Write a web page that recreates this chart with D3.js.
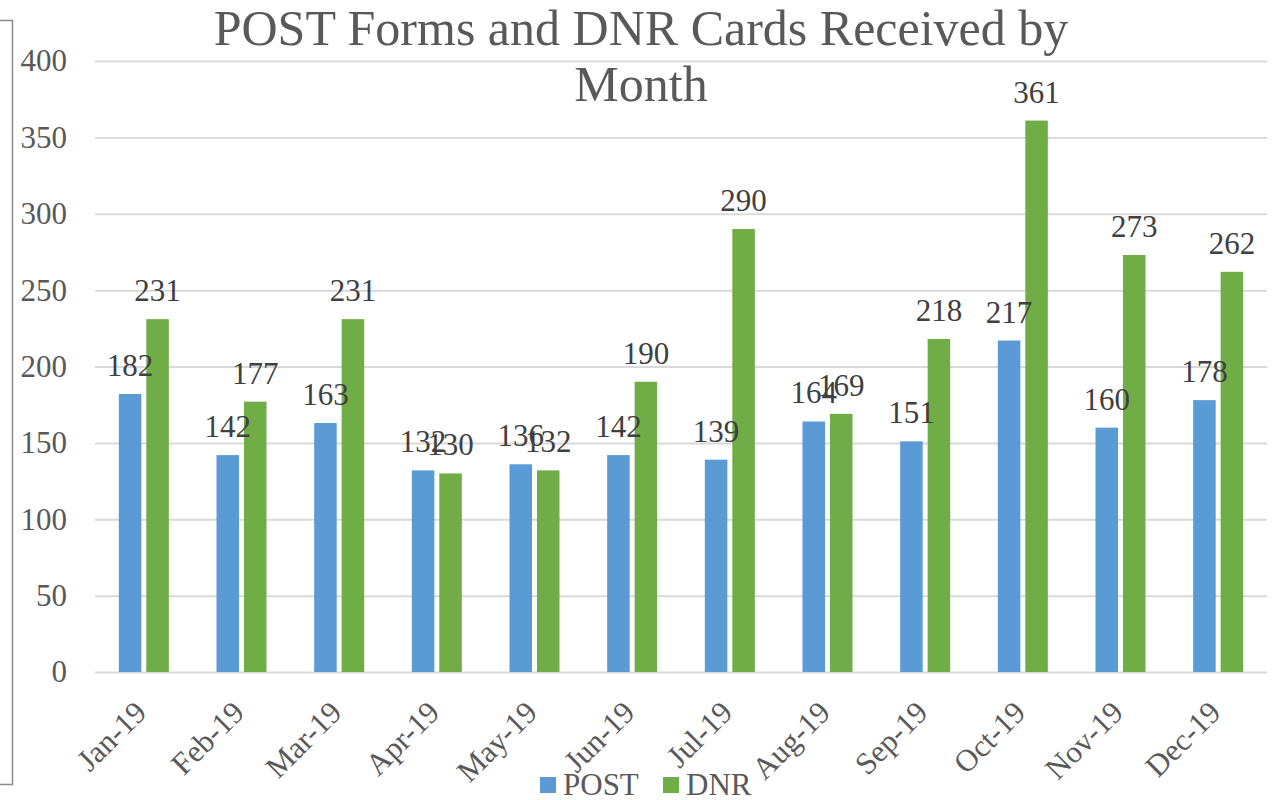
<!DOCTYPE html>
<html>
<head>
<meta charset="utf-8">
<script src="https://cdn.jsdelivr.net/npm/d3@7"></script>
<style>
  body { margin: 0; background: #fff; }
  svg { display: block; font-family: "Liberation Serif", "Times New Roman", serif; }
</style>
</head>
<body>
<svg id="chart" width="1278" height="800"></svg>
<script>
const months = ["Jan-19", "Feb-19", "Mar-19", "Apr-19", "May-19", "Jun-19",
                "Jul-19", "Aug-19", "Sep-19", "Oct-19", "Nov-19", "Dec-19"];
const postValues = [182, 142, 163, 132, 136, 142, 139, 164, 151, 217, 160, 178];
const dnrValues = [231, 177, 231, 130, 132, 190, 290, 169, 218, 361, 273, 262];
const seriesNames = ["POST", "DNR"];
const seriesColors = ["#5B9BD5", "#70AD47"];
const yTicks = [0, 50, 100, 150, 200, 250, 300, 350, 400];

const svg = d3.select("#chart");

const plotLeft = 95, plotRight = 1267, plotTop = 61, plotBottom = 672;

const x0 = d3.scaleBand()
  .domain(months)
  .range([plotLeft, plotRight]);

const x1 = d3.scaleBand()
  .domain(seriesNames)
  .range([x0.bandwidth() * 0.244, x0.bandwidth() * 0.756])
  .paddingInner(0.18);

const y = d3.scaleLinear()
  .domain([0, 400])
  .range([plotBottom, plotTop]);

// left edge of outer chart frame
svg.append("path")
  .attr("d", "M0,20.5H12.5V784.5H0")
  .attr("fill", "none")
  .attr("stroke", "#8c8c8c")
  .attr("stroke-width", 1.5);

// gridlines + y labels
const yAxis = svg.append("g")
  .attr("transform", `translate(${plotLeft},0)`)
  .call(d3.axisLeft(y).tickValues(yTicks).tickSize(-(plotRight - plotLeft)).tickPadding(28));
yAxis.select(".domain").remove();
yAxis.selectAll(".tick line")
  .attr("stroke", "#D9D9D9")
  .attr("stroke-width", 2);
yAxis.selectAll(".tick text")
  .attr("fill", "#595959")
  .attr("font-size", 31)
  .attr("font-family", "Liberation Serif, Times New Roman, serif");

// bars
const data = months.map((m, i) => ({month: m, values: [postValues[i], dnrValues[i]]}));

const groups = svg.append("g")
  .selectAll("g")
  .data(data)
  .join("g")
    .attr("transform", d => `translate(${x0(d.month)},0)`);

groups.selectAll("rect")
  .data(d => d.values.map((v, k) => ({key: seriesNames[k], value: v, color: seriesColors[k]})))
  .join("rect")
    .attr("x", d => x1(d.key))
    .attr("y", d => y(d.value))
    .attr("width", x1.bandwidth())
    .attr("height", d => y(0) - y(d.value))
    .attr("fill", d => d.color);

// data labels
groups.selectAll("text")
  .data(d => d.values.map((v, k) => ({key: seriesNames[k], value: v})))
  .join("text")
    .attr("x", d => x1(d.key) + x1.bandwidth() / 2)
    .attr("y", d => y(d.value) - 18)
    .attr("text-anchor", "middle")
    .attr("fill", "#404040")
    .attr("font-size", 31)
    .text(d => d.value);

// x labels
svg.append("g")
  .selectAll("text")
  .data(months)
  .join("text")
    .attr("text-anchor", "end")
    .attr("transform", d => `translate(${x0(d) + x0.bandwidth() / 2 - 11},${plotBottom + 27}) rotate(-45)`)
    .attr("dy", "0.7em")
    .attr("fill", "#595959")
    .attr("font-size", 31)
    .text(d => d);

// title
const title = svg.append("text")
  .attr("text-anchor", "middle")
  .attr("fill", "#595959")
  .attr("font-size", 50);
title.append("tspan").attr("x", 641).attr("y", 45).text("POST Forms and DNR Cards Received by");
title.append("tspan").attr("x", 641).attr("y", 101).text("Month");

// legend
const legend = svg.append("g")
  .selectAll("g")
  .data(seriesNames)
  .join("g")
    .attr("transform", (d, i) => `translate(${i === 0 ? 540 : 663},0)`);
legend.append("rect")
  .attr("x", 0)
  .attr("y", 777)
  .attr("width", 16)
  .attr("height", 16)
  .attr("fill", (d, i) => seriesColors[i]);
legend.append("text")
  .attr("x", 23)
  .attr("y", 795)
  .attr("fill", "#595959")
  .attr("font-size", 31)
  .text(d => d);
</script>
</body>
</html>
